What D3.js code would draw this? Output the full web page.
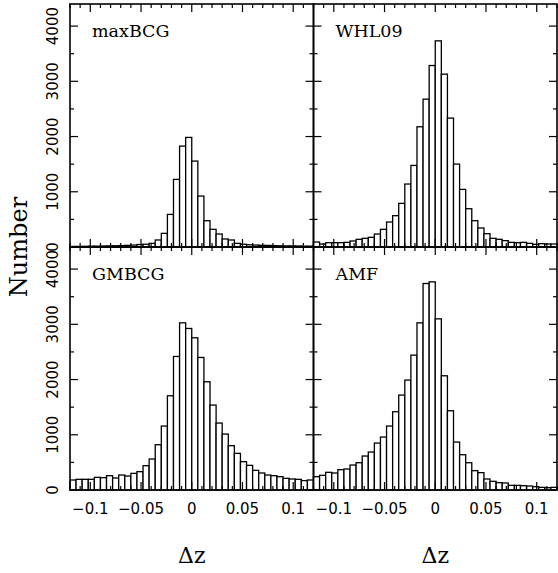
<!DOCTYPE html>
<html>
<head>
<meta charset="utf-8">
<script src="https://cdn.jsdelivr.net/npm/d3@7"></script>
<style>
  body { margin: 0; background: #fff; }
  svg { display: block; }
</style>
</head>
<body>
<div id="chart"></div>
<script>
// histogram bins: 40 bins of width 0.006 from -0.12 to 0.12
var binStart = -0.12, binWidth = 0.006;

var maxBCG = [10, 10, 12, 15, 15, 18, 20, 22, 25, 30, 35, 45, 50, 66, 127, 247, 590, 1224, 1827, 1984,
              1556, 922, 476, 320, 235, 145, 127, 66, 50, 40, 35, 30, 28, 25, 22, 20, 20, 18, 15, 15];
var WHL09 = [90, 54, 78, 78, 78, 84, 109, 139, 157, 175, 235, 320, 452, 567, 790, 1140, 1477, 2177, 2677, 3286,
             3733, 3130, 2334, 1501, 1043, 693, 476, 344, 241, 157, 139, 115, 84, 78, 84, 66, 48, 60, 54, 54];
var GMBCG = [181, 193, 193, 193, 229, 223, 259, 217, 271, 253, 301, 332, 440, 561, 820, 1158, 1706, 2418, 3027, 2925,
             2756, 2400, 1960, 1538, 1212, 1013, 802, 663, 513, 446, 356, 308, 271, 259, 241, 211, 199, 193, 170, 181];
var AMF = [241, 265, 320, 308, 368, 380, 452, 494, 615, 687, 850, 959, 1158, 1417, 1719, 1990, 2442, 3027, 3739, 3769,
           3099, 2068, 1435, 868, 639, 494, 350, 314, 199, 157, 133, 127, 84, 84, 78, 72, 60, 48, 42, 48];

var panelNames = ["maxBCG", "WHL09", "GMBCG", "AMF"];
var xTickValues = [-0.1, -0.05, 0, 0.05, 0.1];
var xTickLabels = ["\u22120.1", "\u22120.05", "0", "0.05", "0.1"];
var yTickValues = [0, 1000, 2000, 3000, 4000];

var width = 558, height = 573;
var padLeft = 70, padTop = 4, pw = 243.5, ph = 243;

var svg = d3.select("#chart").append("svg")
  .attr("width", width)
  .attr("height", height);

var panels = [
  {name: panelNames[0], data: maxBCG, col: 0, row: 0},
  {name: panelNames[1], data: WHL09, col: 1, row: 0},
  {name: panelNames[2], data: GMBCG, col: 0, row: 1},
  {name: panelNames[3], data: AMF, col: 1, row: 1}
];

var x = d3.scaleLinear().domain([-0.12, 0.12]).range([0, pw]);
var y = d3.scaleLinear().domain([0, 4400]).range([ph, 0]);

var minorX = d3.range(-0.12, 0.1201, 0.01);
var minorY = d3.range(0, 4401, 500);

panels.forEach(function (p) {
  var g = svg.append("g")
    .attr("transform", "translate(" + (padLeft + p.col * pw) + "," + (padTop + p.row * ph) + ")");

  // bars
  g.selectAll("rect.bar")
    .data(p.data)
    .enter().append("rect")
    .attr("class", "bar")
    .attr("x", function (d, i) { return x(binStart + i * binWidth); })
    .attr("width", x(binWidth) - x(0))
    .attr("y", function (d) { return y(d); })
    .attr("height", function (d) { return ph - y(d); })
    .attr("fill", "#fff")
    .attr("stroke", "#000")
    .attr("stroke-width", 1.3);

  // x ticks (bottom and top, pointing inward)
  minorX.forEach(function (v) {
    var isMajor = Math.abs(Math.round(v * 100) % 5) === 0;
    var len = isMajor ? 8 : 4;
    g.append("line").attr("x1", x(v)).attr("x2", x(v)).attr("y1", ph).attr("y2", ph - len)
      .attr("stroke", "#000").attr("stroke-width", 1.2);
    g.append("line").attr("x1", x(v)).attr("x2", x(v)).attr("y1", 0).attr("y2", len)
      .attr("stroke", "#000").attr("stroke-width", 1.2);
  });

  // y ticks (left and right, pointing inward)
  minorY.forEach(function (v) {
    var len = (v % 1000 === 0) ? 8 : 4;
    g.append("line").attr("x1", 0).attr("x2", len).attr("y1", y(v)).attr("y2", y(v))
      .attr("stroke", "#000").attr("stroke-width", 1.2);
    g.append("line").attr("x1", pw).attr("x2", pw - len).attr("y1", y(v)).attr("y2", y(v))
      .attr("stroke", "#000").attr("stroke-width", 1.2);
  });

  // frame
  g.append("rect")
    .attr("width", pw).attr("height", ph)
    .attr("fill", "none")
    .attr("stroke", "#000")
    .attr("stroke-width", 1.6);

  // panel name
  g.append("text")
    .attr("x", 22).attr("y", 33)
    .attr("font-family", "DejaVu Serif")
    .attr("font-size", 17.5)
    .text(p.name);

  // y tick labels on left column
  if (p.col === 0) {
    yTickValues.forEach(function (v) {
      g.append("text")
        .attr("transform", "translate(-12," + y(v) + ") rotate(-90)")
        .attr("text-anchor", "middle")
        .attr("font-family", "DejaVu Sans")
        .attr("font-size", 15)
        .text(v);
    });
  }

  // x tick labels on bottom row
  if (p.row === 1) {
    xTickValues.forEach(function (v, i) {
      g.append("text")
        .attr("x", x(v))
        .attr("y", ph + 24)
        .attr("text-anchor", "middle")
        .attr("font-family", "DejaVu Sans")
        .attr("font-size", 15)
        .text(xTickLabels[i]);
    });
    g.append("text")
      .attr("x", pw / 2)
      .attr("y", ph + 73)
      .attr("text-anchor", "middle")
      .attr("font-family", "DejaVu Serif")
      .attr("font-size", 22)
      .text("\u0394z");
  }
});

// y axis title
svg.append("text")
  .attr("transform", "translate(27," + (padTop + ph) + ") rotate(-90)")
  .attr("text-anchor", "middle")
  .attr("font-family", "DejaVu Serif")
  .attr("font-size", 24)
  .text("Number");
</script>
</body>
</html>
